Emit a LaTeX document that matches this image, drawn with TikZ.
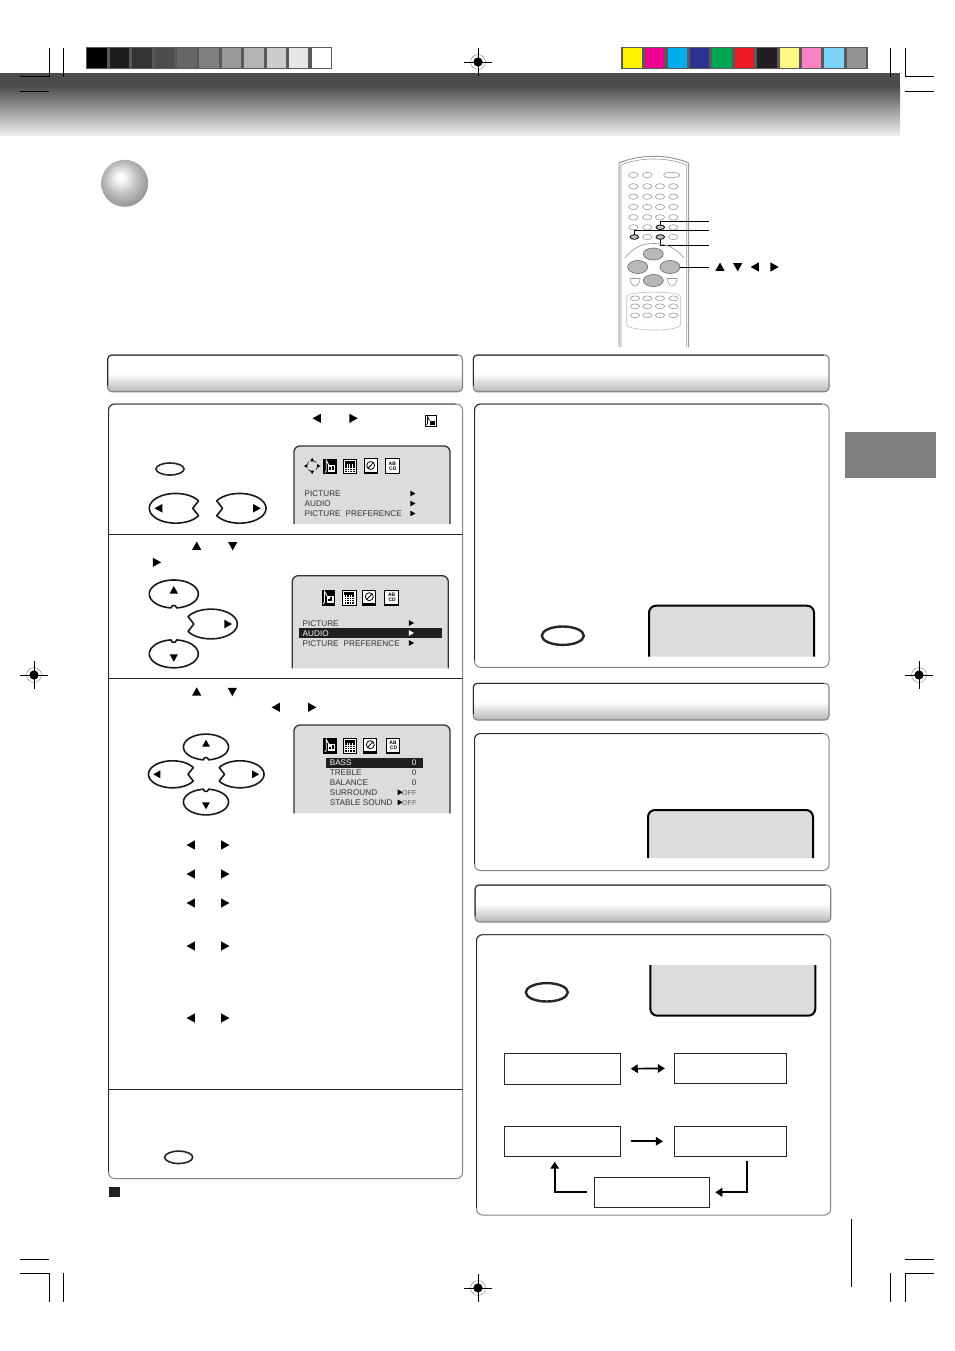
\documentclass[tikz,border=0pt]{standalone}
\usepackage{fontspec}
\setmainfont{Liberation Sans}
\usetikzlibrary{arrows.meta}
\pgfdeclareradialshading{sphshade}{\pgfpoint{-5bp}{7bp}}{gray(0bp)=(1); gray(5bp)=(.96); gray(17bp)=(.74); gray(27bp)=(.6); gray(34bp)=(.5); gray(50bp)=(.5)}
\pgfdeclareverticalshading{hdrshade}{100bp}{gray(0bp)=(.72); gray(25bp)=(.72); gray(50bp)=(1); gray(100bp)=(1)}
\definecolor{darkbar}{HTML}{58595B}
\definecolor{osdfill}{HTML}{DCDCDC}
\definecolor{menutext}{HTML}{333333}
\definecolor{tabgray}{HTML}{7F7F7F}
\definecolor{rimgray}{HTML}{858585}
\definecolor{remotegray}{HTML}{9A9A9A}
\tikzset{
  crop/.style={line width=.8pt,draw=black},
  rimline/.style={line width=1pt,draw=rimgray,rounded corners=6pt},
  topline/.style={line width=.9pt,draw=black!85,rounded corners=6pt},
  divider/.style={line width=.9pt,draw=black!85},
  osdline/.style={line width=1.3pt,draw=black!80,fill=osdfill},
  scrline/.style={line width=2pt,draw=black,fill=osdfill},
  padline/.style={line width=1.6pt,draw=black!90,fill=white},
  thickoval/.style={line width=2.4pt,draw=black!85},
  thinoval/.style={line width=1.6pt,draw=black!85},
  flowbox/.style={draw=black!85,line width=.9pt,inner sep=0pt,fill=white},
  flowarrow/.style={line width=1.7pt,draw=black,-{Triangle[length=7pt,width=8.5pt]}},
  flowarrows/.style={line width=1.7pt,draw=black,{Triangle[length=7pt,width=8.5pt]}-{Triangle[length=7pt,width=8.5pt]}},
  menu/.style={inner sep=0pt,anchor=base west,text=menutext,font=\fontsize{8.2}{9}\selectfont},
  menuwhite/.style={menu,text=white},
  menuval/.style={inner sep=0pt,anchor=base east,text=menutext,font=\fontsize{8}{9}\selectfont},
  menuoff/.style={inner sep=0pt,anchor=base east,text=black!60,font=\fontsize{7.2}{8}\selectfont},
  rbtn/.style={draw=remotegray,line width=.6pt},
  leader/.style={line width=.8pt,draw=black},
  tinytext/.style={inner sep=0pt,font=\fontsize{5}{5}\selectfont\bfseries,text=black}
}
\newcommand{\tri}[4]{\begin{scope}[shift={(#1,#2)},rotate=#3,scale=#4]\fill[black] (-4.6,3.9)--(4.6,3.9)--(0,-4.4)--cycle;\end{scope}}
\newcommand{\hdrbar}[4]{\shade[shading=hdrshade,rounded corners=4pt] (#1,#2) rectangle (#3,#4);
  \draw[line width=1.1pt,draw=rimgray,rounded corners=4pt] (#1,#2) rectangle (#3,#4);
  \draw[line width=1pt,draw=black!85,rounded corners=4pt] (#1,#4-6) -- (#1,#2) -- (#3-5,#2);}
\newcommand{\panelbox}[4]{\draw[rimline,fill=white] (#1,#2) rectangle (#3,#4);
  \draw[topline] (#1,#4-7) -- (#1,#2) -- (#3-7,#2);}
\newcommand{\osdbox}[4]{\filldraw[osdline] (#1,#4) [rounded corners=6pt] -- (#1,#2) -- (#3,#2) [sharp corners] -- (#3,#4);}
\newcommand{\scrbox}[4]{\filldraw[scrline] (#1,#4) [rounded corners=7pt] -- (#1,#2) -- (#3,#2) [sharp corners] -- (#3,#4);}
\newcommand{\regmark}[2]{\begin{scope}[shift={(#1,#2)}]
  \draw[line width=.25pt,draw=black!70] (0,0) circle (7.4);
  \fill[black] (0,0) circle (4.6);
  \draw[line width=.8pt,draw=white] (-4.6,0)--(4.6,0) (0,-4.6)--(0,4.6);
  \draw[line width=.8pt,draw=black] (-14,0)--(14,0) (0,-14)--(0,14);
\end{scope}}
% horizontal pad button: left-pointing, notch right; #3 scale, #4 mirror
\newcommand{\hbtn}[4]{\begin{scope}[shift={(#1,#2)},xscale=#3*#4,yscale=#3]
  \filldraw[padline,line join=round] plot[domain=30:330,samples=60,smooth] ({24*cos(\x)},{13.5*sin(\x)}) .. controls (19,-3.4) .. (15.5,0) .. controls (19,3.4) .. cycle;
  \tri{-15.5}{0}{90}{.85}
\end{scope}}
% vertical pad button: up-pointing, notch below; #4 = 1 up, -1 down
\newcommand{\vbtn}[4]{\begin{scope}[shift={(#1,#2)},xscale=#3,yscale=#3*#4]
  \filldraw[padline] plot[domain=97:443,samples=60,smooth] ({24.5*cos(\x)},{14*sin(\x)}) .. controls (1.5,11.5) .. (0,11.5) .. controls (-1.5,11.5) .. cycle;
  \tri{0}{-4}{0}{.9}
\end{scope}}
\newcommand{\iconrow}[6]{%
  \fill[black] (#1-6.8,#5-7.8) rectangle (#1+6.8,#5+7.8);
  \draw[line width=.9pt,draw=white] (#1-5.2,#5+6) -- (#1-3.8,#5+4.5) -- (#1-3.8,#5-6.2) -- (#1-1.2,#5-1.5);
  \fill[white] (#1-1.8,#5-1.5) rectangle (#1+5.4,#5+5.6);
  \fill[black] (#1-.6,#5+.8) rectangle (#1+1.2,#5+3);
  \fill[black] (#1+2,#5-.4) rectangle (#1+4,#5+3);
  \filldraw[fill=white,draw=black,line width=1.1pt] (#2-6.8,#5-7.4) rectangle (#2+6.8,#5+7.4);
  \fill[black] (#2-5,#5-5.6) rectangle (#2+5,#5-3);
  \foreach \i in {-4,-1.4,1.2,3.8} \foreach \j in {-1.6,.6,2.8,5}
    \fill[black] (#2+\i-.8,#5+\j-.8) rectangle (#2+\i+.8,#5+\j+.8);
  \filldraw[fill=white,draw=black,line width=1.1pt] (#3-6.6,#5-7.6) rectangle (#3+6.6,#5+7.4);
  \draw[line width=.8pt,draw=black] (#3,#5-1) circle (4) (#3-2.7,#5+1.8) -- (#3+2.7,#5-3.8);
  \draw[line width=1.3pt,draw=black] (#3-6.6,#5+6.4) -- (#3+6.6,#5+6.4);
  \filldraw[fill=white,draw=black,line width=1pt] (#4-6.8,#5-7.6) rectangle (#4+6.8,#5+7.4);
  \draw[line width=1.4pt,draw=black] (#4-6.8,#5+6.8) -- (#4+6.8,#5+6.8);
  \node[tinytext] (ab#6) at (#4,#5-3.2) {AB};
  \node[tinytext] (cd#6) at (#4+.5,#5+1.8) {CD};
}
\begin{document}
\begin{tikzpicture}[x=1pt,y=-1pt,line width=1pt]
\useasboundingbox (0,0) rectangle (954,1351);
\fill[white] (0,0) rectangle (954,1351);

% header band
\fill[black!70] (0,73) rectangle (900,86);
\shade[top color=black!70,bottom color=black!6] (0,85.5) rectangle (900,136);

% calibration bars
\fill[darkbar] (86,47) rectangle (332,69);
\foreach \a/\b/\c in {86.7/107.3/000000,110/129/1C1C1C,132/152/333333,154.7/174/4D4D4D,177.3/196.7/666666,199/219.3/808080,222/241/999999,244/264/B3B3B3,266.7/286.3/CCCCCC,289/308.3/E6E6E6,312/331.3/FFFFFF}{
  \definecolor{swatchcol}{HTML}{\c}
  \fill[swatchcol] (\a,47.8) rectangle (\b,68.2);
}
\fill[darkbar] (621,47) rectangle (868,69);
\foreach \a/\b/\c in {623/642.3/FFF200,645.3/664/EC008C,668/687/00AEEF,690/709/2E3192,712/732/00A651,735/754/ED1C24,757/777/231F20,780/799/FFF685,802/821/F782C4,824/844/7DD3F7,847/866/939393}{
  \definecolor{swatchcol}{HTML}{\c}
  \fill[swatchcol] (\a,48) rectangle (\b,68);
}

% crop marks
\draw[crop] (20,76.5)--(49.3,76.5)--(49.3,48) (63.3,48)--(63.3,76.7) (20,91.3)--(49,91.3);
\draw[crop] (890.3,48)--(890.3,76.7) (905.3,48)--(905.3,76.5)--(934,76.5) (905,91.3)--(934,91.3);
\draw[crop] (20,1259.3)--(49,1259.3) (20,1273.3)--(49.3,1273.3)--(49.3,1301.7) (63.3,1273.3)--(63.3,1301.7);
\draw[crop] (890.3,1273.3)--(890.3,1301.7) (934,1273.3)--(905.3,1273.3)--(905.3,1301.7) (905,1259.3)--(934,1259.3);
\regmark{478}{62}
\regmark{34}{675}
\regmark{919}{675}
\regmark{478}{1288}

% side tab and page rule
\fill[tabgray] (845,432) rectangle (936,478);
\draw[line width=.8pt] (851,1219) -- (851,1287);

% sphere
\shade[shading=sphshade] (124.7,183.3) circle (23.5);

% remote control
\draw[line width=1pt,draw=remotegray,fill=white] (619,347) -- (619,163) .. controls (640,154) and (668,154) .. (688.7,163) -- (688.7,347);
\draw[line width=.6pt,draw=remotegray] (621,347) -- (621,165) .. controls (640,157) and (668,157) .. (686.7,165) -- (686.7,347);
\foreach \x in {633.3,647.3} \draw[rbtn] (\x,175) ellipse (4.6 and 2.7);
\draw[rbtn] (671.7,175) ellipse (8 and 2.7);
\foreach \y in {186.3,196.7,207,217.3} \foreach \x in {633.3,647.3,660,673.3} \draw[rbtn] (\x,\y) ellipse (4.6 and 2.7);
\foreach \x in {633.3,647.3,673.3} \draw[rbtn] (\x,227.3) ellipse (4.6 and 2.7);
\foreach \x in {647.3,673.3} \draw[rbtn] (\x,237) ellipse (4.6 and 2.7);
\filldraw[fill=black!25,draw=black,line width=.8pt] (660.3,227.3) ellipse (4.3 and 2.3);
\filldraw[fill=black!25,draw=black,line width=.8pt] (634.3,237) ellipse (4.3 and 2.3);
\filldraw[fill=black!25,draw=black,line width=.8pt] (660.3,237) ellipse (4.3 and 2.3);
\coordinate (btnA) at (660.3,225);
\coordinate (btnB) at (634.3,235);
\coordinate (btnC) at (660.3,239);
\coordinate (btnD) at (680,267);
\coordinate (endA) at (708.5,221);
\coordinate (endB) at (708.5,230.3);
\coordinate (endC) at (708.5,245);
\coordinate (endD) at (709,267);
\draw[leader] (btnA) |- (endA);
\draw[leader] (btnB) |- (endB);
\draw[leader] (btnC) |- (endC);
\draw[rbtn,line width=.7pt] (625,258) .. controls (632,248) and (642,243.5) .. (654,243.5) .. controls (666,243.5) and (676,248) .. (684,258);
\filldraw[fill=black!28,draw=black!60,line width=.6pt] (653.3,254) ellipse (10 and 6);
\filldraw[fill=black!28,draw=black!60,line width=.6pt] (653.3,280.5) ellipse (10 and 6);
\filldraw[fill=black!28,draw=black!60,line width=.6pt] (637.7,267) ellipse (10 and 6.5);
\filldraw[fill=black!28,draw=black!60,line width=.6pt] (670,267) ellipse (10 and 6.5);
\draw[leader] (btnD) -- (endD);
\draw[rbtn] (630,278.5) -- (640,278.5) .. controls (640,283) and (637,286) .. (635,286) .. controls (633,286) and (630,283) .. (630,278.5) -- cycle;
\draw[rbtn] (667.3,278.5) -- (677,278.5) .. controls (677,283) and (674,286) .. (672,286) .. controls (670,286) and (667.3,283) .. (667.3,278.5) -- cycle;
\draw[rbtn,rounded corners=3pt,draw=black!25] (626.7,295) .. controls (640,291.5) and (668,291.5) .. (680.7,295) -- (680.7,326) .. controls (668,331) and (640,331) .. (626.7,326) -- cycle;
\foreach \y in {298.3,306.3,315.3} \foreach \x in {635,647.3,660,673.3} \draw[rbtn] (\x,\y) ellipse (4.6 and 2.4);
\tri{720}{267}{0}{1}
\tri{737.7}{267}{180}{1}
\tri{755}{267}{90}{1}
\tri{774.3}{267}{-90}{1}

% section headers
\hdrbar{107.7}{355}{462.5}{391.7}
\hdrbar{473.3}{355}{829}{391.7}
\hdrbar{473.3}{683.3}{829}{720}
\hdrbar{475}{885}{830.7}{922}

% left panel
\panelbox{108.5}{404}{462.5}{1178.5}
\draw[divider] (108.5,534.4) -- (462.5,534.4);
\draw[divider] (108.5,678.4) -- (462.5,678.4);
\draw[divider] (108.5,1089.4) -- (462.5,1089.4);

% right panels
\panelbox{474.5}{404}{829}{667.3}
\panelbox{474.5}{733.5}{829}{870.5}
\panelbox{476.5}{934.7}{830.7}{1215}

% step 1
\tri{317}{418.3}{90}{1}
\tri{353.3}{418.3}{-90}{1}
\filldraw[fill=white,draw=black,line width=.9pt] (425.3,415) rectangle (436,426.5);
\draw[line width=.7pt,draw=black] (426.5,425) -- (427.4,424) -- (427.4,416.5) -- (429.5,420.5);
\fill[black] (430,421) rectangle (434.7,425.2);
\draw[thinoval] (170,469) ellipse (14 and 6);
\hbtn{175.7}{508.3}{1.1}{1}
\hbtn{239.6}{508.3}{1.1}{-1}
\osdbox{294}{446}{450}{524}
\iconrow{330}{350}{370.7}{392.3}{466.5}{a}
\tri{312.2}{459.7}{0}{.42}
\tri{312.2}{472.3}{180}{.42}
\tri{305.7}{466}{90}{.42}
\tri{318.7}{466}{-90}{.42}
\draw[line width=.5pt,draw=black,dash pattern=on 3.5pt off 5pt,dash phase=-1pt] (312.2,466) circle (5.5);
\node[menu] (a1) at (304.2,496.5) {PICTURE};
\node[menu] (a2) at (304.2,506.5) {AUDIO};
\node[menu] (a3) at (304.2,516.5) {PICTURE\hspace{5pt}PREFERENCE};
\tri{412.7}{493.5}{-90}{.62}
\tri{412.7}{503.5}{-90}{.62}
\tri{412.7}{513.5}{-90}{.62}

% step 2
\tri{196.7}{546}{0}{1}
\tri{232.7}{546}{180}{1}
\tri{156.7}{562.3}{-90}{1}
\vbtn{173.8}{594}{1}{1}
\vbtn{173.8}{653.8}{1}{-1}
\hbtn{210.9}{624}{1.1}{-1}
\osdbox{292.3}{575.7}{448.3}{668.3}
\iconrow{328.3}{349.3}{369.3}{391.7}{597.7}{b}
\fill[black!88] (299,628.3) rectangle (442.3,638);
\node[menu] (b1) at (302.2,626.5) {PICTURE};
\node[menuwhite] (b2) at (302.2,636.3) {AUDIO};
\node[menu] (b3) at (302.2,646.5) {PICTURE\hspace{5pt}PREFERENCE};
\tri{411.3}{623}{-90}{.62}
\begin{scope}[shift={(411.3,633)},rotate=-90,scale=.62]\fill[white] (-4.6,3.9)--(4.6,3.9)--(0,-4.4)--cycle;\end{scope}
\tri{411.3}{643}{-90}{.62}

% step 3
\tri{196.7}{691.7}{0}{1}
\tri{232.3}{691.7}{180}{1}
\tri{276}{707.3}{90}{1}
\tri{312}{707.3}{-90}{1}
\vbtn{206}{747}{.92}{1}
\vbtn{206}{802}{.92}{-1}
\hbtn{172.5}{774.3}{1}{1}
\hbtn{240}{774.3}{1}{-1}
\osdbox{294}{725}{450}{813.3}
\iconrow{330}{350}{370.3}{393}{745.7}{c}
\fill[black!88] (326,758.3) rectangle (422.7,767.7);
\node[menuwhite] (c1) at (329.3,765) {BASS};
\node[menu] (c2) at (329.3,775) {TREBLE};
\node[menu] (c3) at (329.3,785) {BALANCE};
\node[menu] (c4) at (329.3,795) {SURROUND};
\node[menu] (c5) at (329.3,805) {STABLE SOUND};
\node[menuval,text=white] (v1) at (416.7,765) {0};
\node[menuval] (v2) at (416.7,775) {0};
\node[menuval] (v3) at (416.7,785) {0};
\node[menuoff] (v4) at (417,795) {OFF};
\node[menuoff] (v5) at (417,805) {OFF};
\tri{400}{792.3}{-90}{.62}
\tri{400}{802.3}{-90}{.62}
\foreach \y in {845,874,903,946,1018}{
  \tri{191}{\y}{90}{1}
  \tri{225}{\y}{-90}{1}
}

% step 4
\draw[thinoval] (178.7,1157.3) ellipse (14 and 6.2);
\fill[black!88] (109,1186.7) rectangle (120,1197.3);

% right panel contents
\draw[thickoval] (562.8,635.7) ellipse (21 and 9.2);
\scrbox{649}{605.7}{814}{656.7}
\scrbox{648}{810}{813}{858}
\draw[thickoval] (546.8,992.3) ellipse (21 and 9.2);
\filldraw[scrline] (650.3,965) [rounded corners=7pt] -- (650.3,1015.7) -- (815.3,1015.7) [sharp corners] -- (815.3,965);

% flow charts
\node[flowbox,minimum width=116pt,minimum height=31pt] (boxA) at (562.3,1068.8) {};
\node[flowbox,minimum width=112pt,minimum height=30pt] (boxB) at (730.3,1068.3) {};
\node[flowbox,minimum width=116pt,minimum height=30pt] (boxC) at (562.3,1141.3) {};
\node[flowbox,minimum width=112pt,minimum height=30pt] (boxD) at (730.3,1141.3) {};
\node[flowbox,minimum width=115pt,minimum height=30pt] (boxE) at (651.8,1192.3) {};
\coordinate (dropD) at (746.7,1161);
\coordinate (riseC) at (554.7,1161.7);
\draw[flowarrows,shorten <=10pt,shorten >=9pt] (boxA.east) -- (boxB.west);
\draw[flowarrow,shorten <=10pt,shorten >=11pt] (boxC.east) -- (boxD.west);
\draw[flowarrow,shorten >=5.5pt] (dropD) |- (boxE.east);
\draw[flowarrow,shorten <=7pt] (boxE.west) -| (riseC);
\end{tikzpicture}
\end{document}
